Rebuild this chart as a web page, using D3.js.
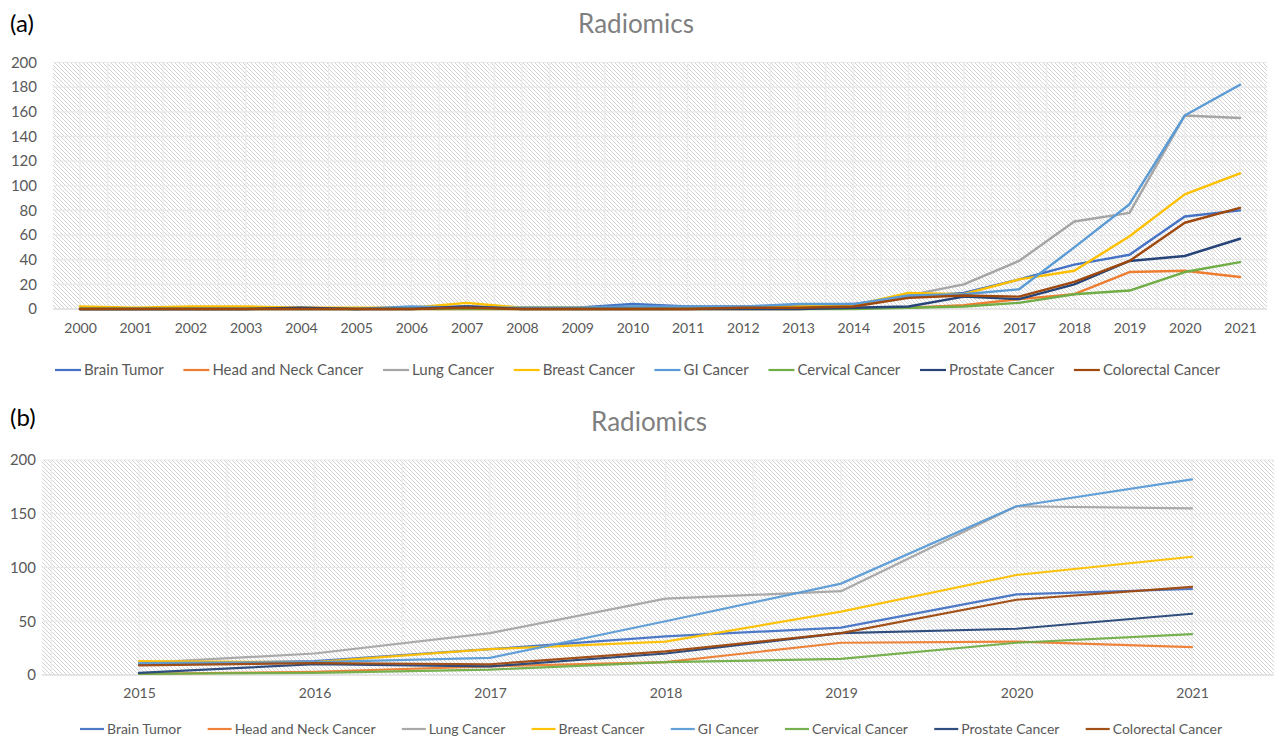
<!DOCTYPE html>
<html>
<head>
<meta charset="utf-8">
<script src="https://cdn.jsdelivr.net/npm/d3@7"></script>
<style>
  html, body { margin: 0; padding: 0; background: #fff; }
  svg { display: block; }
  text { font-family: "Lato", "Liberation Sans", sans-serif; }
</style>
</head>
<body>
<svg id="chart" width="1274" height="739"></svg>
<script>
// ---------------- DATA ----------------
const years = [2000, 2001, 2002, 2003, 2004, 2005, 2006, 2007, 2008, 2009, 2010,
               2011, 2012, 2013, 2014, 2015, 2016, 2017, 2018, 2019, 2020, 2021];
const zoomYears = [2015, 2016, 2017, 2018, 2019, 2020, 2021];

const seriesNames = ["Brain Tumor", "Head and Neck Cancer", "Lung Cancer", "Breast Cancer",
                     "GI Cancer", "Cervical Cancer", "Prostate Cancer", "Colorectal Cancer"];

const brainTumor   = [0, 0, 0, 0, 1, 0, 1, 2, 1, 1, 4, 2, 2, 3, 4, 10, 13, 24, 36, 44, 75, 80];
const headNeck     = [0, 0, 0, 0, 0, 0, 0, 0, 0, 0, 0, 0, 0, 0, 1, 1, 3, 8, 12, 30, 31, 26];
const lungCancer   = [0, 0, 1, 1, 0, 0, 1, 1, 1, 0, 1, 1, 2, 2, 3, 11, 20, 39, 71, 78, 157, 155];
const breastCancer = [2, 1, 2, 2, 1, 1, 1, 5, 1, 1, 1, 1, 1, 2, 3, 13, 12, 24, 31, 59, 93, 110];
const giCancer     = [0, 0, 0, 0, 0, 0, 2, 1, 1, 1, 2, 2, 2, 4, 4, 11, 12, 16, 50, 85, 157, 182];
const cervical     = [0, 0, 0, 0, 0, 0, 0, 0, 0, 0, 0, 0, 0, 0, 0, 1, 2, 5, 12, 15, 30, 38];
const prostate     = [0, 0, 0, 0, 1, 0, 0, 2, 0, 0, 0, 0, 0, 0, 1, 2, 10, 8, 20, 39, 43, 57];
const colorectal   = [0, 0, 0, 0, 0, 0, 0, 1, 0, 0, 0, 0, 1, 1, 2, 9, 11, 10, 22, 39, 70, 82];

const seriesValues = [brainTumor, headNeck, lungCancer, breastCancer, giCancer, cervical, prostate, colorectal];
const seriesColors = ["#4472C4", "#ED7D31", "#A5A5A5", "#FFC000", "#5B9BD5", "#70AD47", "#264478", "#9E480E"];

const yTicksTop = [0, 20, 40, 60, 80, 100, 120, 140, 160, 180, 200];
const yTicksBottom = [0, 50, 100, 150, 200];

const chartTitle = "Radiomics";
const panelLabels = ["(a)", "(b)"];

// ---------------- DRAW ----------------
const svg = d3.select("#chart");
const defs = svg.append("defs");
const pat = defs.append("pattern")
  .attr("id", "hatch").attr("patternUnits", "userSpaceOnUse")
  .attr("width", 4).attr("height", 4);
pat.append("rect").attr("width", 4).attr("height", 4).attr("fill", "#ffffff");
pat.append("path")
  .attr("d", "M-1,3 L1,5 M0,0 L4,4 M3,-1 L5,1")
  .attr("stroke", "#d3d3d3").attr("stroke-width", 1);

function drawPanel(cfg) {
  const g = svg.append("g");
  const n = cfg.years.length;
  const x = d3.scalePoint().domain(cfg.years).range([cfg.x0, cfg.x1]);
  const step = x.step();
  const y = d3.scaleLinear().domain([0, 200]).range([cfg.yb, cfg.yt]);

  g.append("rect")
    .attr("x", cfg.px0).attr("y", cfg.yt)
    .attr("width", cfg.px1 - cfg.px0).attr("height", cfg.yb - cfg.yt)
    .attr("fill", "url(#hatch)");

  const clipId = "clip" + cfg.id;
  defs.append("clipPath").attr("id", clipId).append("rect")
    .attr("x", cfg.px0).attr("y", cfg.yt - 1)
    .attr("width", cfg.px1 - cfg.px0).attr("height", cfg.yb - cfg.yt + 2);
  const grid = g.append("g").attr("clip-path", `url(#${clipId})`);

  const vx = [];
  for (let i = -1; i <= n; i++) {
    vx.push(cfg.x0 + i * step);
    vx.push(cfg.x0 + (i + 0.5) * step);
  }
  grid.selectAll("line.v").data(vx).join("line")
    .attr("x1", d => d).attr("x2", d => d)
    .attr("y1", cfg.yt).attr("y2", cfg.yb)
    .attr("stroke", "#ebebeb").attr("stroke-width", 1.2);

  grid.selectAll("line.h").data(cfg.yTicks).join("line")
    .attr("x1", cfg.px0).attr("x2", cfg.px1)
    .attr("y1", d => y(d)).attr("y2", d => y(d))
    .attr("stroke", "#e8e8e8").attr("stroke-width", 1.2);

  g.append("line")
    .attr("x1", cfg.px0).attr("x2", cfg.px1)
    .attr("y1", y(0)).attr("y2", y(0))
    .attr("stroke", "#d9d9d9").attr("stroke-width", 1.2);

  const yAxis = d3.axisLeft(y).tickValues(cfg.yTicks).tickSize(0).tickPadding(0);
  const ya = g.append("g").attr("transform", `translate(${cfg.yLabelX},0)`).call(yAxis);
  ya.select(".domain").remove();
  ya.selectAll("text")
    .attr("fill", "#595959").style("font-size", cfg.tickFont + "px")
    .style("font-family", "Lato, sans-serif");

  const xAxis = d3.axisBottom(x).tickSize(0).tickPadding(0);
  const xa = g.append("g").attr("transform", `translate(0,${cfg.xLabelY})`).call(xAxis);
  xa.select(".domain").remove();
  xa.selectAll("text")
    .attr("fill", "#595959").style("font-size", cfg.xTickFont + "px")
    .style("font-family", "Lato, sans-serif");

  const offset = years.indexOf(cfg.years[0]);
  const line = d3.line().x(d => x(d.year)).y(d => y(d.value));
  seriesNames.forEach((name, i) => {
    const data = cfg.years.map((yr, k) => ({ year: yr, value: seriesValues[i][offset + k] }));
    g.append("path")
      .datum(data)
      .attr("d", line)
      .attr("fill", "none")
      .attr("stroke", seriesColors[i])
      .attr("stroke-width", cfg.lineWidth)
      .attr("stroke-linejoin", "round")
      .attr("stroke-linecap", "round")
      .attr("opacity", cfg.lineOpacity);
  });

  g.append("text")
    .attr("x", 10).attr("y", cfg.labelY)
    .attr("fill", "#000").style("font-size", "24px")
    .style("font-family", "Lato, sans-serif")
    .text(cfg.panelLabel);

  g.append("text")
    .attr("x", cfg.titleX).attr("y", cfg.titleY)
    .attr("text-anchor", "middle")
    .attr("fill", "#7f7f7f").style("font-size", "26px")
    .style("font-family", "Lato, sans-serif")
    .text(chartTitle);

  const lg = g.append("g");
  const items = seriesNames.map((name, i) => {
    const t = lg.append("text")
      .attr("y", cfg.legendY + cfg.legendFont * 0.35)
      .attr("fill", "#595959").style("font-size", cfg.legendFont + "px")
      .style("font-family", "Lato, sans-serif")
      .text(name);
    return { t, w: t.node().getComputedTextLength(), color: seriesColors[i] };
  });
  const L = cfg.legendLine, gapT = 3;
  const sum = d3.sum(items, d => L + gapT + d.w);
  const gap = (cfg.legendX1 - cfg.legendX0 - sum) / (items.length - 1);
  let cx = cfg.legendX0;
  items.forEach(it => {
    lg.append("line")
      .attr("x1", cx).attr("x2", cx + L)
      .attr("y1", cfg.legendY).attr("y2", cfg.legendY)
      .attr("stroke", it.color).attr("stroke-width", 2.2)
      .attr("opacity", cfg.lineOpacity);
    it.t.attr("x", cx + L + gapT);
    cx += L + gapT + it.w + gap;
  });
}

drawPanel({
  id: "a", years: years, x0: 80, x1: 1240, px0: 53, px1: 1267,
  yt: 62.5, yb: 309, yTicks: yTicksTop, yLabelX: 37, tickFont: 15, xTickFont: 14,
  xLabelY: 323, lineWidth: 2.4, lineOpacity: 1,
  panelLabel: panelLabels[0], labelY: 32, titleX: 636, titleY: 33,
  legendY: 370, legendFont: 15, legendLine: 26, legendX0: 55, legendX1: 1220
});

drawPanel({
  id: "b", years: zoomYears, x0: 139, x1: 1192, px0: 42, px1: 1274,
  yt: 460, yb: 675, yTicks: yTicksBottom, yLabelX: 36, tickFont: 15, xTickFont: 14,
  xLabelY: 688, lineWidth: 2.2, lineOpacity: 0.95,
  panelLabel: panelLabels[1], labelY: 426, titleX: 649, titleY: 431,
  legendY: 729, legendFont: 14, legendLine: 24, legendX0: 80, legendX1: 1222
});
</script>
</body>
</html>
